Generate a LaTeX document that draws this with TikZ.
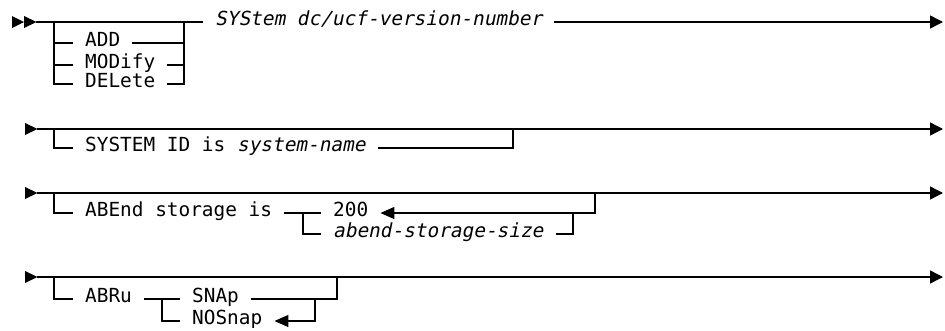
\documentclass[tikz,border=0pt]{standalone}
\usepackage{fontspec}
\setmonofont{DejaVu Sans Mono}
\newfontfamily\slmono{DejaVu Sans Mono}[FakeSlant=0.2]
\usetikzlibrary{arrows.meta}
\tikzset{
  rail/.style={line width=1.4pt, line cap=butt},
  railend/.style={rail, -{Triangle[length=13pt,width=13pt]}},
  railback/.style={rail, -{Triangle[length=14pt,width=12pt]}},
  kw/.style={anchor=west, inner xsep=12pt, inner ysep=0pt, text height=0.73em, text depth=0pt,
    font=\fontsize{19.4}{23}\selectfont\ttfamily},
  startmark/.style={fill=black, draw=none}
}
\newcommand{\varname}[1]{{\slmono #1}}
\begin{document}
\begin{tikzpicture}[x=1pt,y=-1pt]
\useasboundingbox (0,0) rectangle (945,330);
% ---------- Row 1 ----------
\coordinate (s1) at (36,22);
\coordinate (j1a) at (54,22);
\coordinate (j1b) at (184,22);
\coordinate (j1c) at (203,22);
\coordinate (e1) at (943,22);
\fill[startmark] (12,16) -- (24,22) -- (12,28) -- cycle;
\fill[startmark] (24,16) -- (36.5,22) -- (24,28) -- cycle;
\node[kw] (sys) at (j1c) {\varname{SYStem dc/ucf-version-number}};
\node[kw] (add) at (73,43) {ADD};
\node[kw] (mod) at (73,65) {MODify};
\node[kw] (del) at (73,84) {DELete};
\draw[rail] (s1) -- (sys.west);
\draw[railend] (sys.east) -- (e1);
\draw[rail] (j1a) |- (del.west);
\draw[rail] (j1a |- add.west) -- (add.west);
\draw[rail] (j1a |- mod.west) -- (mod.west);
\draw[rail] (j1b) |- (del.east);
\draw[rail] (add.east) -- (j1b |- add.east);
\draw[rail] (mod.east) -- (j1b |- mod.east);
% ---------- Row 2 ----------
\coordinate (s2) at (37,129);
\coordinate (j2a) at (54,129);
\coordinate (j2b) at (513,129);
\coordinate (e2) at (943,129);
\fill[startmark] (25,123) -- (37.5,129) -- (25,135) -- cycle;
\node[kw] (sid) at (73,148) {SYSTEM ID is \varname{system-name}};
\draw[railend] (s2) -- (e2);
\draw[rail] (j2a) |- (sid.west);
\draw[rail] (sid.east) -| (j2b);
% ---------- Row 3 ----------
\coordinate (s3) at (37,193);
\coordinate (j3a) at (54,193);
\coordinate (j3b) at (595,193);
\coordinate (e3) at (943,193);
\coordinate (j3c) at (303,213);
\coordinate (j3d) at (573,213);
\fill[startmark] (25,187) -- (37.5,193) -- (25,199) -- cycle;
\node[kw] (abe) at (73,213) {ABEnd storage is};
\node[kw] (n200) at (321,213) {200};
\node[kw] (asz) at (321,234) {\varname{abend-storage-size}};
\draw[railend] (s3) -- (e3);
\draw[rail] (j3a) |- (abe.west);
\draw[rail] (abe.east) -- (n200.west);
\draw[rail] (j3c) |- (asz.west);
\draw[railback] (j3b) |- (n200.east);
\draw[rail] (asz.east) -| (j3d);
% ---------- Row 4 ----------
\coordinate (s4) at (37,277);
\coordinate (j4a) at (54,277);
\coordinate (j4b) at (337,277);
\coordinate (e4) at (943,277);
\coordinate (j4c) at (162,299);
\coordinate (j4d) at (315,299);
\fill[startmark] (25,271) -- (37.5,277) -- (25,283) -- cycle;
\node[kw] (abru) at (73,299) {ABRu};
\node[kw] (snap) at (180,299) {SNAp};
\node[kw] (nos) at (180,321) {NOSnap};
\draw[railend] (s4) -- (e4);
\draw[rail] (j4a) |- (abru.west);
\draw[rail] (abru.east) -- (snap.west);
\draw[rail] (j4c) |- (nos.west);
\draw[rail] (snap.east) -| (j4b);
\draw[railback] (j4d) |- (nos.east);
\end{tikzpicture}
\end{document}
